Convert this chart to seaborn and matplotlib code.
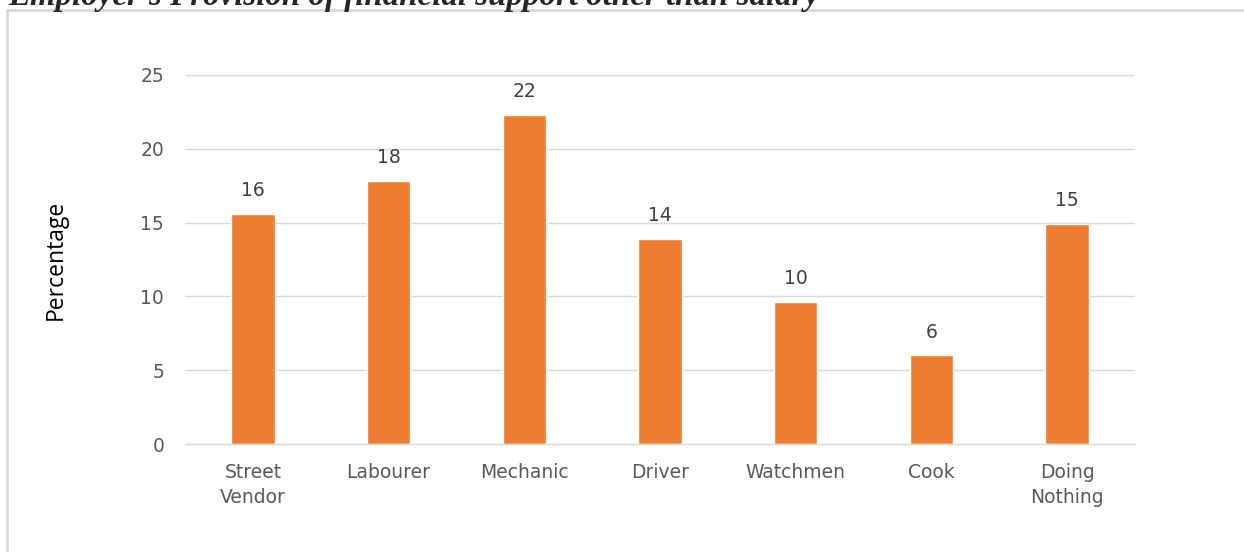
import matplotlib
matplotlib.use("Agg")
import matplotlib.pyplot as plt
import matplotlib.patches as mpatches
import seaborn as sns
import pandas as pd

categories = ["Street\nVendor", "Labourer", "Mechanic", "Driver", "Watchmen", "Cook", "Doing\nNothing"]
values = [15.6, 17.8, 22.3, 13.9, 9.6, 6.0, 14.9]
yticks = [0, 5, 10, 15, 20, 25]
title = "Employer's Provision of financial support other than salary"

sns.set_theme(style="white")
plt.rcParams['font.family'] = ['DejaVu Sans']

df = pd.DataFrame({"cat": categories, "val": values})

fig = plt.figure(figsize=(12.44, 5.52), dpi=100)
W, H = 1244, 552
ax = fig.add_axes([185 / W, 1 - 444 / H, (1135 - 185) / W, (444 - 75) / H])

sns.barplot(data=df, x="cat", y="val", color="#ED7D31", saturation=1, width=0.32, ax=ax)

ax.set_ylim(0, 25)
ax.set_xlim(-0.5, len(categories) - 0.5)
ax.set_yticks(yticks)
ax.yaxis.grid(True, color="#D9D9D9", linewidth=1)
ax.set_axisbelow(True)
for s in ["top", "right", "left"]:
    ax.spines[s].set_visible(False)
ax.spines["bottom"].set_color("#D9D9D9")
ax.spines["bottom"].set_linewidth(1)
ax.tick_params(axis="both", length=0, colors="#595959", labelsize=13.5)
ax.tick_params(axis="y", pad=15)
ax.tick_params(axis="x", pad=14)
for lab in ax.get_xticklabels():
    lab.set_linespacing(1.4)
ax.set_xlabel("")
ax.set_ylabel("Percentage", fontsize=16.5, color="#000000", labelpad=52,
              family=['Liberation Sans Narrow', 'Open Sans', 'DejaVu Sans'])

for c in ax.containers:
    ax.bar_label(c, labels=[f"{v:.0f}" for v in values], padding=10, fontsize=13.5, color="#404040")

# chart border
rect = mpatches.Rectangle((7 / W, -0.1), 1.2, 1 - 10 / H + 0.1, transform=fig.transFigure,
                          fill=False, edgecolor="#D9D9D9", linewidth=2, clip_on=False)
fig.patches.append(rect)

fig.text(8 / W, 1 - 5 / H, title, ha="left", va="baseline", fontsize=23.8,
         fontweight="bold", fontstyle="italic", family=["Liberation Serif", "DejaVu Serif"])

fig.savefig("out.png", dpi=100)
